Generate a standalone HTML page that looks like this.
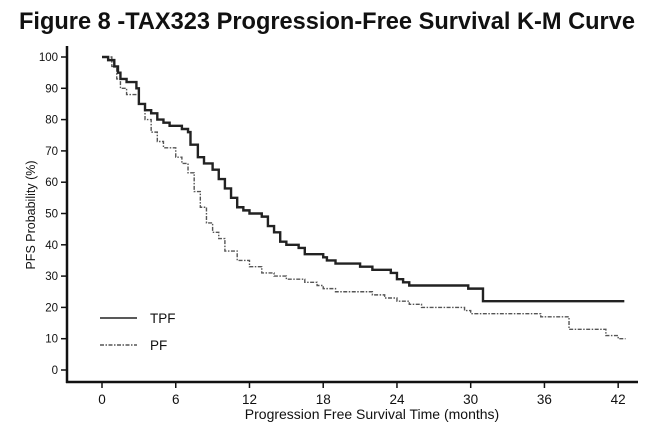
<!DOCTYPE html>
<html><head><meta charset="utf-8"><style>
html,body{margin:0;padding:0;background:#fff;}
svg{display:block;font-family:"Liberation Sans",sans-serif;}
</style></head><body>
<svg id="s" width="656" height="437" viewBox="0 0 656 437" xmlns="http://www.w3.org/2000/svg">
<text x="327" y="29" text-anchor="middle" font-size="24" font-weight="bold" textLength="616" lengthAdjust="spacingAndGlyphs" fill="#111">Figure 8 -TAX323 Progression-Free Survival K-M Curve</text>
<g stroke="#111" stroke-width="2.5" fill="none">
<line x1="67" y1="46" x2="67" y2="383"/>
<line x1="66" y1="382" x2="638" y2="382"/>
</g>
<g id="yt" stroke="#111" stroke-width="1.5"></g>
<g id="xt" stroke="#111" stroke-width="1.5"></g>
<g id="yl" font-size="11.5" fill="#111" text-anchor="end"></g>
<g id="xl" font-size="13.5" fill="#111" text-anchor="middle" font-weight="500"></g>
<text x="372" y="419" text-anchor="middle" font-size="14" fill="#111" font-weight="500">Progression Free Survival Time (months)</text>
<text transform="translate(35,215) rotate(-90)" text-anchor="middle" font-size="12.5" fill="#111">PFS Probability (%)</text>
<path id="pf" fill="none" stroke="#555" stroke-width="1.4" stroke-dasharray="4,1.5,1.5,1.5"/>
<path id="tpf" fill="none" stroke="#222" stroke-width="2.4"/>
<line x1="100" y1="318" x2="137" y2="318" stroke="#222" stroke-width="1.6"/>
<line x1="100" y1="345" x2="137" y2="345" stroke="#555" stroke-width="1.4" stroke-dasharray="4,1.5,1.5,1.5"/>
<text x="150" y="323" font-size="13.5" fill="#111" font-weight="500">TPF</text>
<text x="150" y="350" font-size="13.5" fill="#111" font-weight="500">PF</text>
</svg>
<script>
var X=function(t){return 102+t*12.29},Y=function(v){return 370-v*3.13};
var yt=document.getElementById('yt'),xt=document.getElementById('xt'),yl=document.getElementById('yl'),xl=document.getElementById('xl');
var ns='http://www.w3.org/2000/svg';
function el(p,n,a,txt){var e=document.createElementNS(ns,n);for(var k in a)e.setAttribute(k,a[k]);if(txt!=null)e.textContent=txt;p.appendChild(e);}
for(var v=0;v<=100;v+=10){el(yt,'line',{x1:61,x2:67,y1:Y(v),y2:Y(v)});el(yl,'text',{x:58,y:Y(v)+4},v);}
for(var t=0;t<=42;t+=6){el(xt,'line',{x1:X(t),x2:X(t),y1:382,y2:388});el(xl,'text',{x:X(t),y:404},t);}
function path(d,end){var s='M'+X(0)+','+Y(100);for(var i=1;i<d.length;i++){s+='H'+X(d[i][0])+'V'+Y(d[i][1]);}s+='H'+X(end);return s;}
var T=[[0,100],[0.5,99],[1,97],[1.3,95],[1.5,93],[2,92],[2.8,90],[3,85],[3.5,83],[4,82],[4.5,80],[5,79],[5.5,78],[6.5,77],[7,76],[7.2,72],[7.8,68],[8.3,66],[9,64],[9.5,61],[10,58],[10.5,55],[11,52],[11.5,51],[12,50],[13,49],[13.5,46],[14,44],[14.5,41],[15,40],[16,39],[16.5,37],[18,36],[18.3,35],[19,34],[21,33],[22,32],[23.5,31],[24,29],[24.5,28],[25,27],[29.8,26],[31,22]];
var P=[[0,100],[0.8,97],[1.2,93],[1.5,90],[2,88],[3,85],[3.5,80],[4,76],[4.5,73],[5,71],[6,68],[6.5,66],[7,63],[7.5,57],[8,52],[8.5,47],[9,44],[9.5,42],[10,38],[11,35],[12,33],[13,31],[14,30],[15,29],[16.5,28],[17.5,27],[18,26],[19,25],[22,24],[23,23],[24,22],[25,21],[26,20],[29.5,19],[30,18],[35.7,17],[38,13],[41,11],[42,10]];
document.getElementById('tpf').setAttribute('d',path(T,42.5));
document.getElementById('pf').setAttribute('d',path(P,42.6));
</script>
</body></html>
